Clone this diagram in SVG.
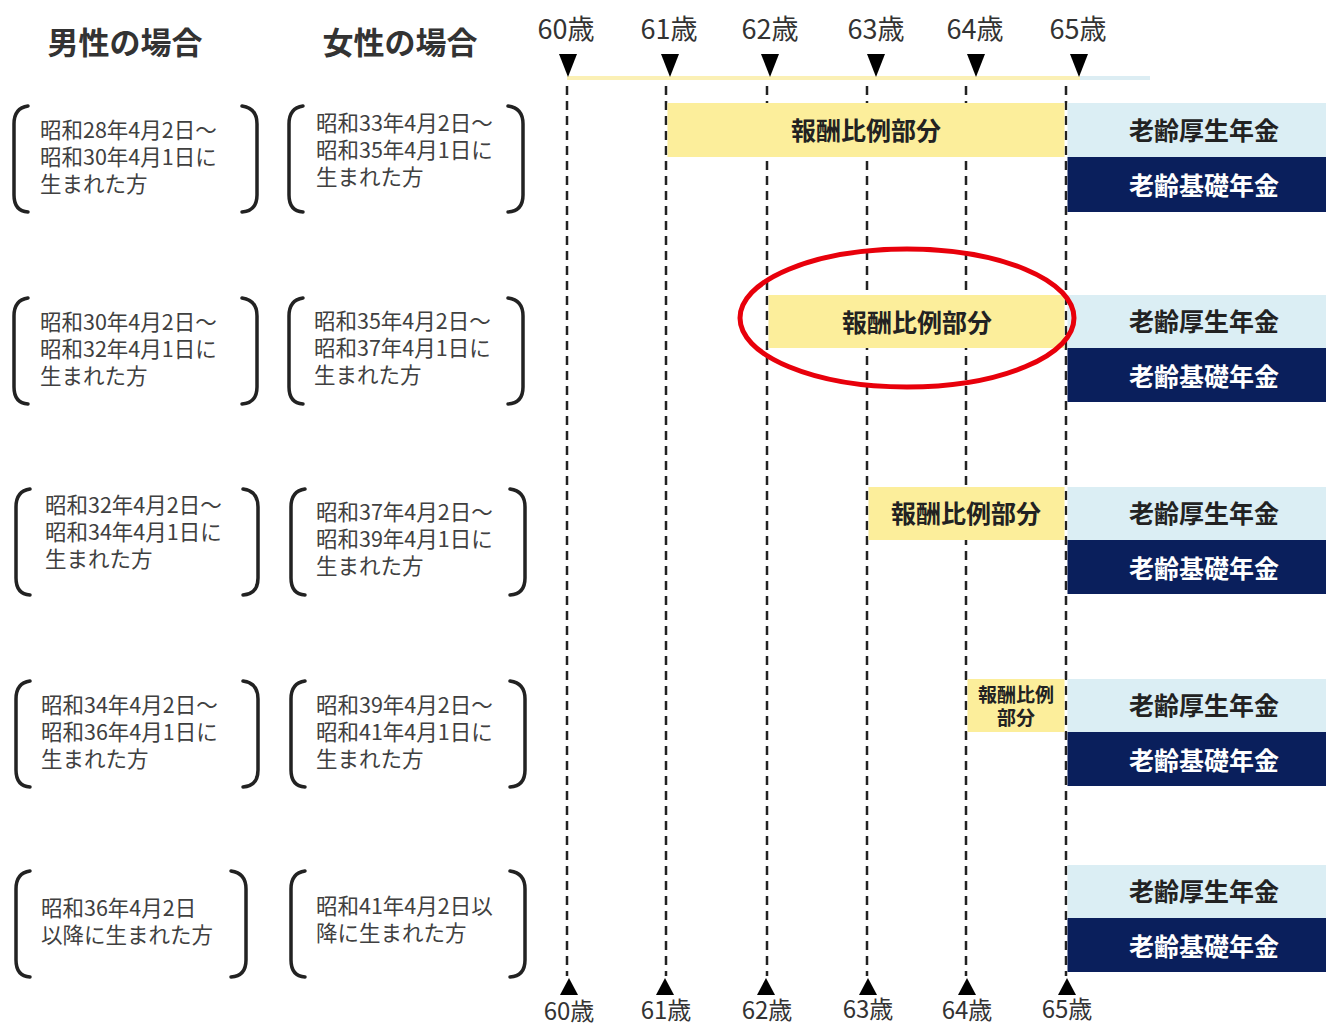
<svg xmlns="http://www.w3.org/2000/svg" width="1326" height="1026" viewBox="0 0 1326 1026">
<style>
.hd{font-family:"Noto Sans CJK JP","Noto Sans",sans-serif;font-size:31px;font-weight:700;fill:#333;text-anchor:middle;dominant-baseline:central}
.age{font-family:"Noto Sans CJK JP","Noto Sans",sans-serif;font-size:27px;fill:#333;text-anchor:middle;dominant-baseline:central}
.ageb{font-family:"Noto Sans CJK JP","Noto Sans",sans-serif;font-size:24px;fill:#333;text-anchor:middle;dominant-baseline:central}
.lt{font-family:"Noto Sans CJK JP","Noto Sans",sans-serif;font-size:21.5px;fill:#404040;dominant-baseline:central}
.bar{font-family:"Noto Sans CJK JP","Noto Sans",sans-serif;font-size:25px;font-weight:700;fill:#222;text-anchor:middle;dominant-baseline:central}
.barw{font-family:"Noto Sans CJK JP","Noto Sans",sans-serif;font-size:25px;font-weight:700;fill:#fff;text-anchor:middle;dominant-baseline:central}
.bars{font-family:"Noto Sans CJK JP","Noto Sans",sans-serif;font-size:19px;font-weight:700;fill:#222;text-anchor:middle;dominant-baseline:central}
.br{fill:none;stroke:#222;stroke-width:3.5;stroke-linecap:round}
.dash{stroke:#222;stroke-width:2.5;stroke-dasharray:9,6}
.y{fill:#fcee9b}
.lb{fill:#dbeef4}
.nv{fill:#0a1f5c}
.tri{fill:#000}
</style>
<rect width="1326" height="1026" fill="#fff"/>
<g id="headers">
<text class="hd" x="125" y="40">男性の場合</text>
<text class="hd" x="400" y="40">女性の場合</text>
</g>
<g id="axis-top">
<line x1="567" y1="78" x2="1080" y2="78" stroke="#fbf0b5" stroke-width="4"/>
<line x1="1080" y1="78" x2="1150" y2="78" stroke="#dcedf3" stroke-width="4"/>
<text class="age" x="566" y="27">60歳</text>
<text class="age" x="669" y="27">61歳</text>
<text class="age" x="770" y="27">62歳</text>
<text class="age" x="876" y="27">63歳</text>
<text class="age" x="975" y="27">64歳</text>
<text class="age" x="1078" y="27">65歳</text>
<polygon class="tri" points="559,54 577,54 568,77"/>
<polygon class="tri" points="661,54 679,54 670,77"/>
<polygon class="tri" points="761,54 779,54 770,77"/>
<polygon class="tri" points="867,54 885,54 876,77"/>
<polygon class="tri" points="967,54 985,54 976,77"/>
<polygon class="tri" points="1070,54 1088,54 1079,77"/>
</g>
<g id="connectors">
<line class="dash" x1="567" y1="86" x2="567" y2="976"/>
<line class="dash" x1="666" y1="86" x2="666" y2="976"/>
<line class="dash" x1="767" y1="86" x2="767" y2="976"/>
<line class="dash" x1="867" y1="86" x2="867" y2="976"/>
<line class="dash" x1="966" y1="86" x2="966" y2="976"/>
<line class="dash" x1="1066" y1="86" x2="1066" y2="976"/>
</g>
<g id="bars">
<g id="row1-bars">
<rect class="y" x="667.5" y="103" width="397" height="54"/>
<rect class="lb" x="1067.5" y="103" width="259" height="54"/>
<rect class="nv" x="1067.5" y="157" width="259" height="55"/>
<text class="bar" x="866" y="129">報酬比例部分</text>
<text class="bar" x="1204" y="129">老齢厚生年金</text>
<text class="barw" x="1204" y="184">老齢基礎年金</text>
</g>
<g id="row2-bars">
<rect class="y" x="768.5" y="295" width="296" height="53"/>
<rect class="lb" x="1067.5" y="295" width="259" height="53"/>
<rect class="nv" x="1067.5" y="348" width="259" height="54"/>
<text class="bar" x="917" y="321">報酬比例部分</text>
<text class="bar" x="1204" y="320">老齢厚生年金</text>
<text class="barw" x="1204" y="375">老齢基礎年金</text>
</g>
<g id="row3-bars">
<rect class="y" x="868.5" y="487" width="196" height="53"/>
<rect class="lb" x="1067.5" y="487" width="259" height="53"/>
<rect class="nv" x="1067.5" y="540" width="259" height="54"/>
<text class="bar" x="966" y="512">報酬比例部分</text>
<text class="bar" x="1204" y="512">老齢厚生年金</text>
<text class="barw" x="1204" y="567">老齢基礎年金</text>
</g>
<g id="row4-bars">
<rect class="y" x="967.5" y="679" width="97" height="53"/>
<rect class="lb" x="1067.5" y="679" width="259" height="53"/>
<rect class="nv" x="1067.5" y="732" width="259" height="54"/>
<text class="bars" x="1016" y="693">報酬比例<tspan x="1016" dy="23">部分</tspan></text>
<text class="bar" x="1204" y="704">老齢厚生年金</text>
<text class="barw" x="1204" y="759">老齢基礎年金</text>
</g>
<g id="row5-bars">
<rect class="lb" x="1067.5" y="865" width="259" height="53"/>
<rect class="nv" x="1067.5" y="918" width="259" height="54"/>
<text class="bar" x="1204" y="890">老齢厚生年金</text>
<text class="barw" x="1204" y="945">老齢基礎年金</text>
</g>
</g>
<g id="axis-bottom">
<polygon class="tri" points="569,978 560,995 578,995"/>
<polygon class="tri" points="665,978 656,995 674,995"/>
<polygon class="tri" points="766,978 757,995 775,995"/>
<polygon class="tri" points="868,978 859,995 877,995"/>
<polygon class="tri" points="967,978 958,995 976,995"/>
<polygon class="tri" points="1067,978 1058,995 1076,995"/>
<text class="ageb" x="569" y="1009">60歳</text>
<text class="ageb" x="666" y="1008">61歳</text>
<text class="ageb" x="767" y="1008">62歳</text>
<text class="ageb" x="868" y="1007">63歳</text>
<text class="ageb" x="967" y="1008">64歳</text>
<text class="ageb" x="1067" y="1007">65歳</text>
</g>
<g id="highlight">
<ellipse cx="907" cy="318" rx="167" ry="69" fill="none" stroke="#e8000b" stroke-width="5"/>
</g>
<g id="row1-male">
<path class="br" d="M28,106 Q14,108 14,124 L14,195 Q14,211 28,212"/>
<path class="br" d="M242,106 Q257,108 257,124 L257,195 Q257,211 242,212"/>
<text class="lt" x="40" y="128">昭和28年4月2日～<tspan x="40" dy="27">昭和30年4月1日に</tspan><tspan x="40" dy="27">生まれた方</tspan></text>
</g>
<g id="row1-female">
<path class="br" d="M303,106 Q289,108 289,124 L289,195 Q289,211 303,212"/>
<path class="br" d="M508,106 Q523,108 523,124 L523,195 Q523,211 508,212"/>
<text class="lt" x="316" y="121">昭和33年4月2日～<tspan x="316" dy="27">昭和35年4月1日に</tspan><tspan x="316" dy="27">生まれた方</tspan></text>
</g>
<g id="row2-male">
<path class="br" d="M28,298 Q14,300 14,316 L14,387 Q14,403 28,404"/>
<path class="br" d="M242,298 Q257,300 257,316 L257,387 Q257,403 242,404"/>
<text class="lt" x="40" y="320">昭和30年4月2日～<tspan x="40" dy="27">昭和32年4月1日に</tspan><tspan x="40" dy="27">生まれた方</tspan></text>
</g>
<g id="row2-female">
<path class="br" d="M303,298 Q289,300 289,316 L289,387 Q289,403 303,404"/>
<path class="br" d="M508,298 Q523,300 523,316 L523,387 Q523,403 508,404"/>
<text class="lt" x="314" y="319">昭和35年4月2日～<tspan x="314" dy="27">昭和37年4月1日に</tspan><tspan x="314" dy="27">生まれた方</tspan></text>
</g>
<g id="row3-male">
<path class="br" d="M30,489 Q16,491 16,507 L16,578 Q16,594 30,595"/>
<path class="br" d="M243,489 Q258,491 258,507 L258,578 Q258,594 243,595"/>
<text class="lt" x="45" y="503">昭和32年4月2日～<tspan x="45" dy="27">昭和34年4月1日に</tspan><tspan x="45" dy="27">生まれた方</tspan></text>
</g>
<g id="row3-female">
<path class="br" d="M305,489 Q291,491 291,507 L291,578 Q291,594 305,595"/>
<path class="br" d="M510,489 Q525,491 525,507 L525,578 Q525,594 510,595"/>
<text class="lt" x="316" y="510">昭和37年4月2日～<tspan x="316" dy="27">昭和39年4月1日に</tspan><tspan x="316" dy="27">生まれた方</tspan></text>
</g>
<g id="row4-male">
<path class="br" d="M30,681 Q16,683 16,699 L16,770 Q16,786 30,787"/>
<path class="br" d="M243,681 Q258,683 258,699 L258,770 Q258,786 243,787"/>
<text class="lt" x="41" y="703">昭和34年4月2日～<tspan x="41" dy="27">昭和36年4月1日に</tspan><tspan x="41" dy="27">生まれた方</tspan></text>
</g>
<g id="row4-female">
<path class="br" d="M305,681 Q291,683 291,699 L291,770 Q291,786 305,787"/>
<path class="br" d="M510,681 Q525,683 525,699 L525,770 Q525,786 510,787"/>
<text class="lt" x="316" y="703">昭和39年4月2日～<tspan x="316" dy="27">昭和41年4月1日に</tspan><tspan x="316" dy="27">生まれた方</tspan></text>
</g>
<g id="row5-male">
<path class="br" d="M30,871 Q16,873 16,889 L16,960 Q16,976 30,977"/>
<path class="br" d="M231,871 Q246,873 246,889 L246,960 Q246,976 231,977"/>
<text class="lt" x="41" y="906">昭和36年4月2日<tspan x="41" dy="27">以降に生まれた方</tspan></text>
</g>
<g id="row5-female">
<path class="br" d="M305,871 Q291,873 291,889 L291,960 Q291,976 305,977"/>
<path class="br" d="M510,871 Q525,873 525,889 L525,960 Q525,976 510,977"/>
<text class="lt" x="316" y="904">昭和41年4月2日以<tspan x="316" dy="27">降に生まれた方</tspan></text>
</g>
</svg>
